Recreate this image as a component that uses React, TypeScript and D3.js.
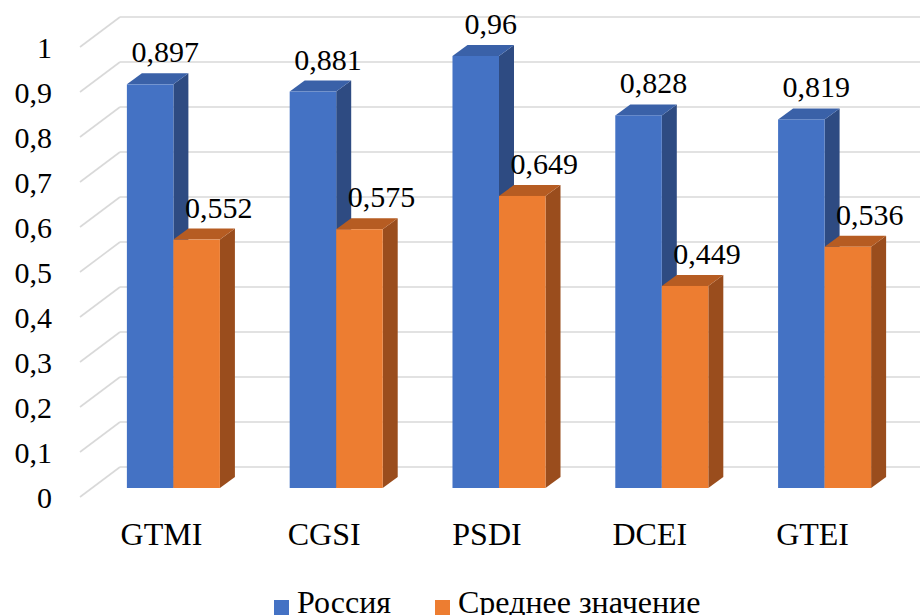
import React from "react";
import * as d3 from "d3";

const categories = ["GTMI", "CGSI", "PSDI", "DCEI", "GTEI"];
const seriesNames = ["Россия", "Среднее значение"];
const russia = [0.897, 0.881, 0.96, 0.828, 0.819];
const average = [0.552, 0.575, 0.649, 0.449, 0.536];
const yTicks = [0, 0.1, 0.2, 0.3, 0.4, 0.5, 0.6, 0.7, 0.8, 0.9, 1];

const W = 920;
const H = 615;
const FONT = "Liberation Serif";

// Oblique projection: front floor edge, bar faces and back wall
const WALL = { dx: 40, dy: -30 };
const BAR_FRONT = { dx: 12, dy: -9 };
const BAR_DEPTH = { dx: 15, dy: -11 };

const palette = [
  { front: "#4472C4", side: "#2E4B82", top: "#3A61A8" },
  { front: "#ED7D31", side: "#9A4D1D", top: "#B65C22" },
];

const fmt = (v: number) => String(v).replace(".", ",");

export default function App() {
  const y = d3.scaleLinear().domain([0, 1]).range([497, 47]);
  const x = d3
    .scaleBand<string>()
    .domain(categories)
    .range([92, 906])
    .paddingInner(0.4286)
    .paddingOuter(0.2143);
  const xs = d3.scaleBand<string>().domain(seriesNames).range([0, x.bandwidth()]);
  const values = [russia, average];
  const h = (v: number) => y(0) - y(v);

  return (
    <svg width={W} height={H} style={{ display: "block", position: "absolute", left: 0, top: 0 }}>
      <rect width={W} height={H} fill="#fff" />
      {/* gridlines: floor diagonal + back wall */}
      {yTicks.map((t) => (
        <g key={t} stroke="#d9d9d9" strokeWidth={1.6} fill="none">
          <line x1={80} y1={y(t)} x2={80 + WALL.dx} y2={y(t) + WALL.dy} />
          <line x1={80 + WALL.dx} y1={y(t) + WALL.dy} x2={W} y2={y(t) + WALL.dy} />
        </g>
      ))}
      {yTicks.map((t) => (
        <text
          key={"l" + t}
          x={52}
          y={y(t) + 10.5}
          textAnchor="end"
          fontFamily={FONT}
          fontSize={30}
          fill="#000"
        >
          {fmt(t)}
        </text>
      ))}
      {/* bars */}
      {categories.map((c, ci) =>
        seriesNames.map((s, si) => {
          const v = values[si][ci];
          const x0 = (x(c) as number) + (xs(s) as number);
          const w = xs.bandwidth();
          const base = y(0) + BAR_FRONT.dy;
          const top = base - h(v);
          const { dx, dy } = BAR_DEPTH;
          const col = palette[si];
          return (
            <g key={c + s}>
              <polygon
                points={`${x0 + w},${top} ${x0 + w + dx},${top + dy} ${x0 + w + dx},${base + dy} ${x0 + w},${base}`}
                fill={col.side}
              />
              <polygon
                points={`${x0},${top} ${x0 + dx},${top + dy} ${x0 + w + dx},${top + dy} ${x0 + w},${top}`}
                fill={col.top}
              />
              <rect x={x0} y={top} width={w} height={base - top} fill={col.front} />
            </g>
          );
        })
      )}
      {/* value labels */}
      {categories.map((c, ci) =>
        seriesNames.map((s, si) => {
          const v = values[si][ci];
          const x0 = (x(c) as number) + (xs(s) as number);
          const w = xs.bandwidth();
          const backTop = y(0) + BAR_FRONT.dy + BAR_DEPTH.dy - h(v);
          return (
            <text
              key={"v" + c + s}
              x={x0 + w / 2 + (si === 0 ? 15 : 22)}
              y={backTop - 11}
              textAnchor="middle"
              fontFamily={FONT}
              fontSize={30}
              fill="#000"
            >
              {fmt(v)}
            </text>
          );
        })
      )}
      {/* category labels */}
      {categories.map((c) => (
        <text
          key={"c" + c}
          x={(x(c) as number) + x.bandwidth() / 2 - BAR_FRONT.dx}
          y={545}
          textAnchor="middle"
          fontFamily={FONT}
          fontSize={32}
          fill="#000"
        >
          {c}
        </text>
      ))}
      {/* legend */}
      {seriesNames.map((s, si) => {
        const lx = si === 0 ? 274 : 435;
        return (
          <g key={"lg" + s}>
            <rect x={lx} y={600} width={15} height={15} fill={palette[si].front} />
            <text x={lx + 23} y={613} fontFamily={FONT} fontSize={32} fill="#000">
              {s}
            </text>
          </g>
        );
      })}
    </svg>
  );
}
